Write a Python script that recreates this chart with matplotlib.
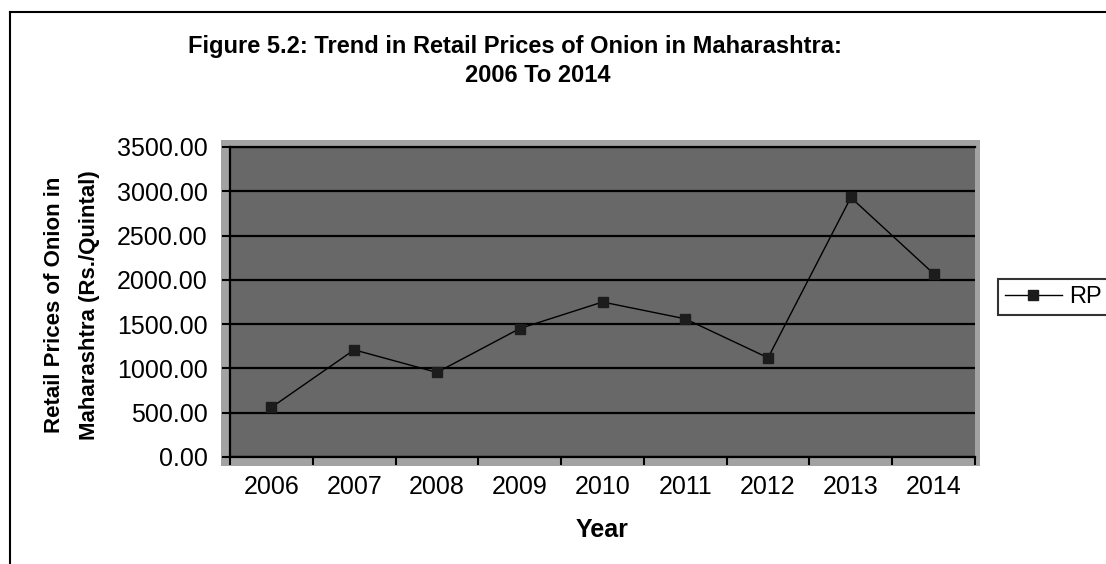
import numpy as np
import matplotlib
matplotlib.use("Agg")
import matplotlib.pyplot as plt
from matplotlib.patches import Rectangle
from matplotlib.lines import Line2D

years = ["2006", "2007", "2008", "2009", "2010", "2011", "2012", "2013", "2014"]
rp_values = [560, 1210, 955, 1450, 1750, 1560, 1120, 2930, 2070]
y_ticks = [0, 500, 1000, 1500, 2000, 2500, 3000, 3500]

plt.rcParams['font.family'] = ['Liberation Sans', 'DejaVu Sans']

W, H = 1106, 564
fig = plt.figure(figsize=(W / 100, H / 100), dpi=100)

def fx(px):
    return px / W

def fy(py):
    return 1 - py / H

# outer chart frame lines
fig.add_artist(Line2D([fx(10), fx(10)], [0, fy(12)], transform=fig.transFigure, color='black', lw=1.5))
fig.add_artist(Line2D([fx(10), 1], [fy(12), fy(12)], transform=fig.transFigure, color='black', lw=1.5))

# light gray frame around plot area
frame = Rectangle((fx(221), fy(466)), fx(980) - fx(221), fy(140) - fy(466),
                  transform=fig.transFigure, facecolor='#a2a2a2', edgecolor='none', zorder=-1)
fig.add_artist(frame)

ax = fig.add_axes([fx(230), fy(457), fx(975) - fx(230), fy(147) - fy(457)])
ax.set_facecolor('#686868')

x = np.arange(len(years))
line, = ax.plot(x, rp_values, color='black', lw=1.0, marker='s', markersize=7.5,
                markerfacecolor='#1c1c1c', markeredgecolor='#1c1c1c', label='RP', zorder=3)

ax.set_xlim(-0.5, len(years) - 0.5)
ax.set_ylim(0, 3500)
ax.set_yticks(y_ticks)
ax.set_yticklabels([f"{v:.2f}" for v in y_ticks], fontsize=18)
ax.yaxis.grid(True, color='black', lw=1.6)
ax.set_axisbelow(True)

ax.set_xticks(np.arange(len(years) + 1) - 0.5)
ax.set_xticklabels([])
ax.set_xticks(x, minor=True)
ax.set_xticklabels(years, minor=True, fontsize=18)
ax.tick_params(axis='x', which='major', direction='out', length=6, width=1.5, color='black')
ax.tick_params(axis='x', which='minor', length=0, pad=13)
ax.tick_params(axis='y', direction='out', length=6, width=1.5, color='black', pad=10)

for s in ['left', 'bottom', 'top']:
    ax.spines[s].set_color('black')
    ax.spines[s].set_linewidth(1.6)
ax.spines['right'].set_visible(False)

# titles
fig.text(fx(515), fy(46), "Figure 5.2: Trend in Retail Prices of Onion in Maharashtra:",
         ha='center', va='center', fontsize=17, fontweight='bold')
fig.text(fx(538), fy(76), "2006 To 2014", ha='center', va='center', fontsize=17, fontweight='bold')

# axis labels
fig.text(fx(55), fy(305), "Retail Prices of Onion in", rotation=90, ha='center', va='center',
         fontsize=16, fontweight='bold')
fig.text(fx(90), fy(305), "Maharashtra (Rs./Quintal)", rotation=90, ha='center', va='center',
         fontsize=16, fontweight='bold')
fig.text(fx(602), fy(530), "Year", ha='center', va='center', fontsize=18, fontweight='bold')

# legend
leg = fig.legend(handles=[line], labels=['RP'], loc='upper left',
                 bbox_to_anchor=(fx(998), fy(279)), bbox_transform=fig.transFigure,
                 fontsize=17, frameon=True, fancybox=False, borderaxespad=0,
                 borderpad=0.3, handlelength=2.4, handletextpad=0.3)
leg.get_frame().set_edgecolor('black')
leg.get_frame().set_linewidth(1.5)

fig.savefig("out.png", dpi=100, facecolor='white')
